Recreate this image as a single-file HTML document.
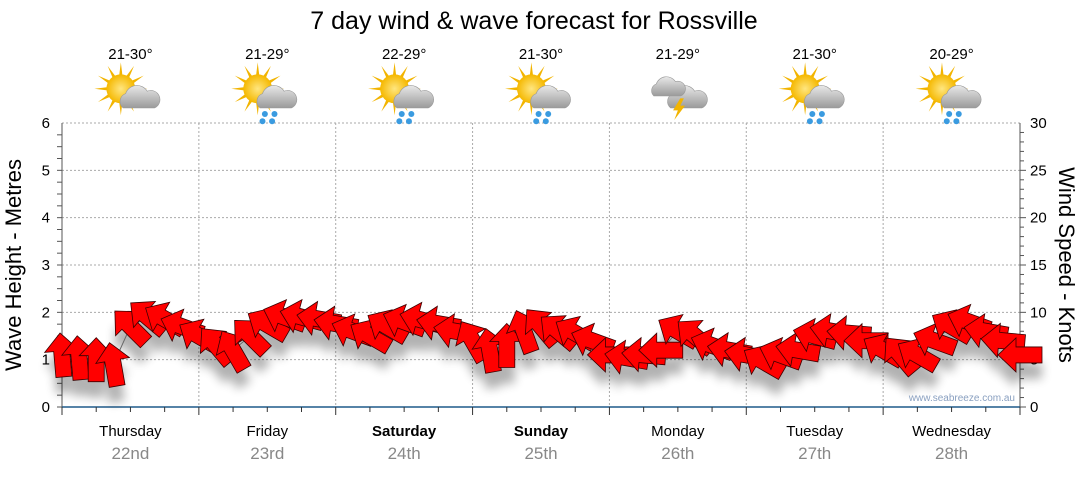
<!DOCTYPE html>
<html><head><meta charset="utf-8">
<style>
body{margin:0;background:#fff;font-family:"Liberation Sans",sans-serif;}
svg text{font-family:"Liberation Sans",sans-serif;}
</style></head>
<body>
<svg id="chart" width="1080" height="475" xmlns="http://www.w3.org/2000/svg">
<defs>
<filter id="sh" x="-50%" y="-50%" width="200%" height="200%"><feGaussianBlur stdDeviation="5"/></filter>
<radialGradient id="sun" cx="50%" cy="50%" r="50%"><stop offset="0" stop-color="#ffe680"/><stop offset="1" stop-color="#f5b800"/></radialGradient>
<linearGradient id="cloud" x1="0" y1="0" x2="0" y2="1"><stop offset="0" stop-color="#e8e8e8"/><stop offset="1" stop-color="#9a9a9a"/></linearGradient>
</defs>
<text x="534" y="29" font-size="25" text-anchor="middle" fill="#000">7 day wind &amp; wave forecast for Rossville</text>
<g id="grid"></g>
<g id="axes"></g>
<g id="icons"></g>
<g id="shadow" filter="url(#sh)" opacity="0.3"></g>
<g id="arrows"></g>
<text x="1015" y="401" font-size="10" text-anchor="end" fill="#8aa0c0">www.seabreeze.com.au</text>
<text transform="translate(21,265) rotate(-90)" font-size="22" text-anchor="middle">Wave Height - Metres</text>
<text transform="translate(1059,265) rotate(90)" font-size="22" text-anchor="middle">Wind Speed - Knots</text>
</svg>
<script>
const days=["Thursday","Friday","Saturday","Sunday","Monday","Tuesday","Wednesday"];
const dates=["22nd","23rd","24th","25th","26th","27th","28th"];
const temps=["21-30°","21-29°","22-29°","21-30°","21-29°","21-30°","20-29°"];
const iconTypes=["cloud","rain","rain","rain","storm","rain","rain"];
const waveTicks=[0,1,2,3,4,5,6];
const windTicks=[0,5,10,15,20,25,30];
const windSpeed=[5.5,5.2,5,4.5,8.5,9.5,9.3,8.5, 7.5,6.5,6,7.5,8.7,9.5,9.5,9.3, 8.8,8,7.5,8.5,9,9.2,8.8,8, 7,6,6.5,8,8.5,8,7.8,7, 5.5,5.2,5.5,6,8,7.5,6.5,6, 5.5,4.8,5.5,6,7.5,8,7.8,7, 6,5.5,5.5,7,8.5,9,8,7,5.5];
const windDir=[-5,-5,0,-10,-45,-50,-60,-70, -60,-40,-30,-45,-60,-70,-75,-80, -80,-70,-60,-60,-70,-75,-80,-80, -30,-10,0,-20,-40,-50,-60,-70, -90,-80,-85,-90,-60,-50,-70,-80, -80,-60,-70,-80,-75,-80,-85,-90, -60,-40,-60,-70,-60,-70,-80,-85,-90];
const NS="http://www.w3.org/2000/svg";
const X0=62,X1=1020,Y0=407,Y1=123;
const dayW=(X1-X0)/7;
const yW=v=>Y0-(v/6)*(Y0-Y1);
const yK=v=>Y0-(v/30)*(Y0-Y1);
const xT=i=>X0+i*(X1-X0)/(windSpeed.length-1);
function mk(tag,attrs,parent){const e=document.createElementNS(NS,tag);for(const k in attrs)e.setAttribute(k,attrs[k]);parent.appendChild(e);return e;}
const grid=document.getElementById('grid'),axes=document.getElementById('axes'),icons=document.getElementById('icons');
waveTicks.forEach(v=>{if(v>0){const l=mk('line',{x1:X0,x2:X1,y1:yW(v),y2:yW(v),stroke:'#aaa','stroke-dasharray':'2,2'},grid);

}
const t=mk('text',{x:50,y:yW(v)+5,'font-size':15,'text-anchor':'end'},axes);t.textContent=v;

});
for(let v=0;v<6;v+=0.25){mk('line',{x1:X0-5,x2:X0,y1:yW(v),y2:yW(v),stroke:'#555'},axes);}
for(let v=0;v<30;v+=1){mk('line',{x1:X1,x2:X1+(v%5==0?6:4),y1:yK(v),y2:yK(v),stroke:'#555'},axes);}
windTicks.forEach(v=>{const t=mk('text',{x:1030,y:yK(v)+5,'font-size':15},axes);t.textContent=v;

});
mk('line',{x1:X0,x2:X0,y1:Y1,y2:Y0,stroke:'#555'},axes);
mk('line',{x1:X1,x2:X1,y1:Y1,y2:Y0,stroke:'#555'},axes);
const ax=mk('line',{x1:X0,x2:X1,y1:Y0,y2:Y0,stroke:'#1f5a8a','stroke-width':1.5},axes);


for(let i=0;i<=28;i++){const x=X0+i*dayW/4;mk('line',{x1:x,x2:x,y1:Y0,y2:Y0+(i%4==0?8:5),stroke:'#333'},axes);}
days.forEach((d,i)=>{const cx=X0+dayW*(i+0.5);
if(i>0){const g=mk('line',{x1:X0+dayW*i,x2:X0+dayW*i,y1:Y1,y2:Y0,stroke:'#aaa','stroke-dasharray':'2,2'},grid);

}
const t=mk('text',{x:cx,y:436,'font-size':15,'text-anchor':'middle','font-weight':(i==2||i==3)?'bold':'normal'},axes);t.textContent=d;


const t2=mk('text',{x:cx,y:459,'font-size':17,'text-anchor':'middle',fill:'#888'},axes);t2.textContent=dates[i];


const t3=mk('text',{x:cx,y:59,'font-size':15,'text-anchor':'middle'},icons);t3.textContent=temps[i];


const g=mk('g',{transform:`translate(${cx},96) scale(1.2)`},icons);


if(iconTypes[i]!='storm'){
for(let a=0;a<12;a++){const r=a*30*Math.PI/180;mk('polygon',{points:`${-8+Math.cos(r)*22},${-6+Math.sin(r)*22} ${-8+Math.cos(r+0.15)*10},${-6+Math.sin(r+0.15)*10} ${-8+Math.cos(r-0.15)*10},${-6+Math.sin(r-0.15)*10}`,fill:'#f2b400'},g);}
mk('circle',{cx:-8,cy:-6,r:12,fill:'url(#sun)'},g);}
mk('path',{d:'M-6,10 a7,7 0 0 1 2,-12 a10,10 0 0 1 18,-2 a7,7 0 0 1 6,14 z',fill:'url(#cloud)',stroke:'#999','stroke-width':0.5},g);
if(iconTypes[i]=='storm'){mk('path',{d:'M-20,0 a6,6 0 0 1 2,-10 a9,9 0 0 1 16,-2 a6,6 0 0 1 4,12 z',fill:'url(#cloud)',stroke:'#999','stroke-width':0.5},g);
mk('polygon',{points:'2,2 -4,12 0,12 -3,20 6,8 2,8 5,2',fill:'#f2b400'},g);}
if(iconTypes[i]=='rain'){[[-2,15],[6,15],[-4,21],[4,21]].forEach(p=>mk('circle',{cx:p[0],cy:p[1],r:2.5,fill:'#3a9be0'},g));}
});
const sh=document.getElementById('shadow'),ar=document.getElementById('arrows');
let pts=windSpeed.map((v,i)=>`${xT(i)},${yK(v)}`).join(' ');
const wl=mk('polyline',{points:pts,fill:'none',stroke:'#666','stroke-width':1},ar);


const shape='0,-22 17,-4 8,-4 8,22 -8,22 -8,-4 -17,-4';
windSpeed.forEach((v,i)=>{
mk('polygon',{points:shape,fill:'#000',transform:`translate(${xT(i)},${yK(v)+16}) rotate(${windDir[i]})`},sh);
const p=mk('polygon',{points:shape,fill:'#ff0000',stroke:'#3a0000','stroke-width':0.8,'stroke-linejoin':'miter',transform:`translate(${xT(i)},${yK(v)}) rotate(${windDir[i]})`},ar);


});
</script>
</body></html>
